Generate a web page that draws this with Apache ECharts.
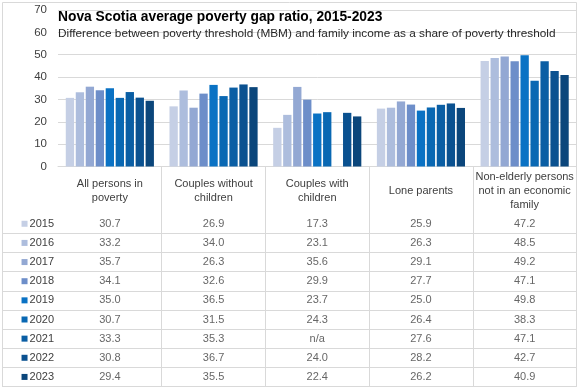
<!DOCTYPE html>
<html>
<head>
<meta charset="utf-8">
<script src="https://cdn.jsdelivr.net/npm/echarts@6/dist/echarts.min.js"></script>
<style>html,body{margin:0;padding:0;background:#fff;}#c{width:580px;height:389px;}</style>
</head>
<body>
<div id="c"></div>
<script>
const categories = ['All persons in\npoverty', 'Couples without\nchildren', 'Couples with\nchildren', 'Lone parents', 'Non-elderly persons\nnot in an economic\nfamily'];
const years = ['2015', '2016', '2017', '2018', '2019', '2020', '2021', '2022', '2023'];
const v2015 = [30.7, 26.9, 17.3, 25.9, 47.2];
const v2016 = [33.2, 34.0, 23.1, 26.3, 48.5];
const v2017 = [35.7, 26.3, 35.6, 29.1, 49.2];
const v2018 = [34.1, 32.6, 29.9, 27.7, 47.1];
const v2019 = [35.0, 36.5, 23.7, 25.0, 49.8];
const v2020 = [30.7, 31.5, 24.3, 26.4, 38.3];
const v2021 = [33.3, 35.3, null, 27.6, 47.1];
const v2022 = [30.8, 36.7, 24.0, 28.2, 42.7];
const v2023 = [29.4, 35.5, 22.4, 26.2, 40.9];
const yTicks = [0, 10, 20, 30, 40, 50, 60, 70];

const seriesValues = [v2015, v2016, v2017, v2018, v2019, v2020, v2021, v2022, v2023];
const colors = ['#c5cfe5', '#adbddd', '#93a8d3', '#6d8ec9', '#0a72c4', '#0968b3', '#0a5ea4', '#0a5190', '#0b467b'];
const FONT = 'Liberation Sans';
const GRID = '#d9d9d9';

const rich = { y: { fontSize: 11, color: '#404040', fontFamily: FONT, padding: [0, 0, 0, 2] } };
colors.forEach((c, i) => { rich['c' + i] = { width: 6, height: 6, backgroundColor: c }; });

const series = years.map((y, i) => ({
  name: y, type: 'bar', xAxisIndex: 0, yAxisIndex: 0,
  data: seriesValues[i], itemStyle: { color: colors[i] },
  barCategoryGap: '15%', barGap: '20%'
}));

const tableData = [];
years.forEach((y, r) => {
  seriesValues[r].forEach((v, c) => {
    tableData.push({ value: [c, r], txt: v === null ? 'n/a' : v.toFixed(1) });
  });
});
series.push({
  type: 'scatter', xAxisIndex: 1, yAxisIndex: 1, symbolSize: 0, silent: true,
  data: tableData,
  label: { show: true, position: 'inside', color: '#404040', fontSize: 11, fontFamily: FONT,
    formatter: p => p.data.txt }
});

const chart = echarts.init(document.getElementById('c'), null, { renderer: 'canvas' });
chart.setOption({
  animation: false,
  backgroundColor: '#fff',
  title: {
    left: 53, top: 5,
    text: 'Nova Scotia average poverty gap ratio, 2015-2023',
    textStyle: { fontFamily: FONT, fontSize: 13.8, fontWeight: 'bold', color: '#000' },
    subtext: 'Difference between poverty threshold (MBM) and family income as a share of poverty threshold',
    subtextStyle: { fontFamily: FONT, fontSize: 11.8, color: '#262626' },
    itemGap: 4
  },
  graphic: [{
    type: 'rect', z: -10, silent: true,
    shape: { x: 2.5, y: 2.5, width: 574, height: 384 },
    style: { fill: null, stroke: GRID, lineWidth: 1 }
  }],
  grid: [
    { left: 58, right: 3.5, top: 10, height: 156.5 },
    { left: 58, right: 3.5, top: 214.2, height: 172.3 }
  ],
  xAxis: [{
    type: 'category', gridIndex: 0, data: categories,
    axisLine: { show: true, lineStyle: { color: GRID } },
    axisTick: { show: true, length: 220, interval: (i) => i > 0, lineStyle: { color: GRID } },
    axisLabel: { interval: 0, margin: 24, verticalAlign: 'middle', lineHeight: 14,
      color: '#404040', fontSize: 11, fontFamily: FONT }
  }, {
    type: 'category', gridIndex: 1, data: categories,
    axisLine: { show: false }, axisTick: { show: false }, axisLabel: { show: false }
  }],
  yAxis: [{
    type: 'value', gridIndex: 0, min: 0, max: 70, interval: 10,
    axisLine: { show: false }, axisTick: { show: false },
    splitLine: { lineStyle: { color: GRID } },
    axisLabel: { margin: 11, color: '#404040', fontSize: 11.5, fontFamily: FONT,
      formatter: v => yTicks.includes(v) ? String(v) : '' }
  }, {
    type: 'category', gridIndex: 1, data: years, inverse: true,
    axisLine: { show: false },
    axisTick: { show: true, length: 56, interval: (i) => i > 0, lineStyle: { color: GRID } },
    splitLine: { show: true, interval: (i) => i > 0, lineStyle: { color: GRID } },
    axisLabel: { interval: 0, margin: 4,
      formatter: (v, i) => '{c' + i + '| }{y|' + v + '}', rich: rich }
  }],
  series: series
});
</script>
</body>
</html>
